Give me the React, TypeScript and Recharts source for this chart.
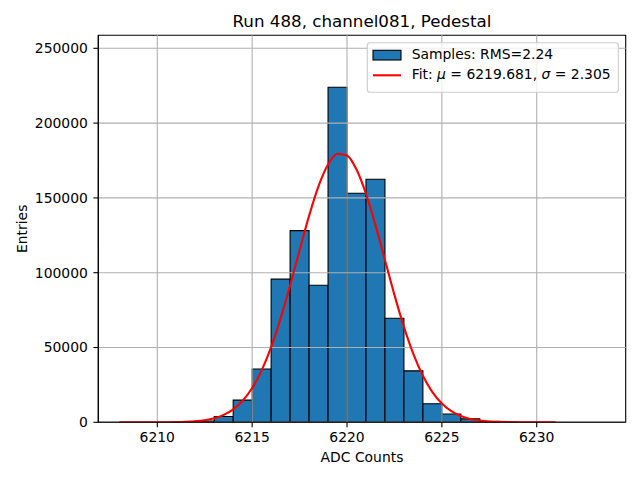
import React from 'react';
import { ComposedChart, XAxis, YAxis, Line, ReferenceArea, ReferenceLine } from 'recharts';

const FONT = '"DejaVu Sans", sans-serif';

const TITLE = 'Run 488, channel081, Pedestal';
const X_LABEL = 'ADC Counts';
const Y_LABEL = 'Entries';
const LEGEND_SAMPLES = 'Samples: RMS=2.24';

const BIN_LEFT = [6211, 6212, 6213, 6214, 6215, 6216, 6217, 6218, 6219, 6220, 6221, 6222, 6223, 6224, 6225, 6226, 6227, 6228];
const BIN_COUNT = [200, 900, 3900, 14800, 35600, 95700, 128100, 91600, 224000, 153100, 162500, 69600, 34400, 12400, 5500, 2300, 600, 100];
const BIN_WIDTH = 1;

const FIT_X = [
  6208, 6208.5, 6209, 6209.5, 6210, 6210.5, 6211, 6211.5, 6212, 6212.5,
  6213, 6213.5, 6214, 6214.5, 6215, 6215.5, 6216, 6216.5, 6217, 6217.5,
  6218, 6218.5, 6219, 6219.5, 6220, 6220.5, 6221, 6221.5, 6222, 6222.5,
  6223, 6223.5, 6224, 6224.5, 6225, 6225.5, 6226, 6226.5, 6227, 6227.5,
  6228, 6228.5, 6229, 6229.5, 6230, 6230.5, 6231,
];
const FIT_Y = [
  1, 1, 4, 10, 27, 65, 150, 330, 700, 1400,
  2700, 4950, 8640, 14400, 22900, 34700, 50300, 69500, 91500, 115000,
  138000, 157900, 172300, 179500, 178300, 169000, 152800, 131800, 108500, 85200,
  63800, 45600, 31100, 20200, 12600, 7430, 4200, 2260, 1160, 570,
  270, 120, 50, 20, 7, 3, 1,
];

const X_TICKS = [6210, 6215, 6220, 6225, 6230];
const Y_TICKS = [0, 50000, 100000, 150000, 200000, 250000];
const X_DOMAIN: [number, number] = [6206.89, 6234.69];
const Y_DOMAIN: [number, number] = [0, 258700];

const fitData = FIT_X.map((x, i) => ({ x, fit: FIT_Y[i] }));

const tickStyle = { fill: '#000', fontSize: 13.9, fontFamily: FONT };
const GRID = '#b0b0b0';

export default function App() {
  return (
    <div style={{ position: 'absolute', left: 0, top: 0, width: 640, height: 480, background: '#fff' }}>
      <ComposedChart
        width={640}
        height={480}
        data={fitData}
        margin={{ top: 35.3, right: 14.3, bottom: 27.7, left: 38.3 }}
      >
        <XAxis
          dataKey="x"
          type="number"
          domain={X_DOMAIN}
          ticks={X_TICKS}
          allowDataOverflow
          height={30}
          tickSize={4.9}
          tickMargin={5.3}
          tick={tickStyle}
          tickLine={{ stroke: '#000', strokeWidth: 1.1 }}
          axisLine={{ stroke: '#000', strokeWidth: 1.1 }}
        />
        <YAxis
          type="number"
          domain={Y_DOMAIN}
          ticks={Y_TICKS}
          allowDataOverflow
          width={60}
          tickSize={4.9}
          tickMargin={5.5}
          tick={tickStyle}
          tickLine={{ stroke: '#000', strokeWidth: 1.1 }}
          axisLine={{ stroke: '#000', strokeWidth: 1.1 }}
          tickFormatter={(v: number) => String(v)}
        />
        {BIN_LEFT.map((l, i) => (
          <ReferenceArea
            key={'bin' + l}
            x1={l}
            x2={l + BIN_WIDTH}
            y1={0}
            y2={BIN_COUNT[i]}
            fill="#1f77b4"
            fillOpacity={1}
            stroke="#000"
            strokeWidth={1.1}
            ifOverflow="visible"
          />
        ))}
        {X_TICKS.map((t) => (
          <ReferenceLine key={'gx' + t} x={t} stroke={GRID} strokeWidth={1.1} />
        ))}
        {Y_TICKS.map((t) => (
          <ReferenceLine key={'gy' + t} y={t} stroke={GRID} strokeWidth={1.1} />
        ))}
        <Line
          dataKey="fit"
          type="monotone"
          stroke="#ff0000"
          strokeWidth={2.1}
          dot={false}
          activeDot={false}
          isAnimationActive={false}
        />
        <ReferenceArea
          x1={X_DOMAIN[0]}
          x2={X_DOMAIN[1]}
          y1={Y_DOMAIN[0]}
          y2={Y_DOMAIN[1]}
          fill="none"
          fillOpacity={0}
          stroke="#000"
          strokeWidth={1.1}
          ifOverflow="visible"
        />
      </ComposedChart>
      <svg
        width={640}
        height={480}
        style={{ position: 'absolute', left: 0, top: 0, pointerEvents: 'none' }}
        fontFamily={FONT}
      >
        <text x={362} y={26.7} textAnchor="middle" fontSize={16.7} fill="#000">{TITLE}</text>
        <text x={362} y={462.4} textAnchor="middle" fontSize={13.9} fill="#000">{X_LABEL}</text>
        <text
          x={0}
          y={0}
          transform="translate(27,228.8) rotate(-90)"
          textAnchor="middle"
          fontSize={13.9}
          fill="#000"
        >
          {Y_LABEL}
        </text>
        <rect x={367.3} y={42.7} width={251} height={49.6} rx={2.8} fill="#fff" fillOpacity={0.8} stroke="#cccccc" strokeWidth={1.1} />
        <rect x={373} y={50.3} width={28} height={9.7} fill="#1f77b4" stroke="#000" strokeWidth={1.1} />
        <text x={411.7} y={58.8} fontSize={13.9} fill="#000">{LEGEND_SAMPLES}</text>
        <line x1={373} y1={75.3} x2={401} y2={75.3} stroke="#ff0000" strokeWidth={2.1} />
        <text x={411.7} y={79.3} fontSize={13.9} fill="#000">
          <tspan>Fit: </tspan>
          <tspan fontStyle="italic">μ</tspan>
          <tspan> = 6219.681, </tspan>
          <tspan fontStyle="italic">σ</tspan>
          <tspan> = 2.305</tspan>
        </text>
      </svg>
    </div>
  );
}
